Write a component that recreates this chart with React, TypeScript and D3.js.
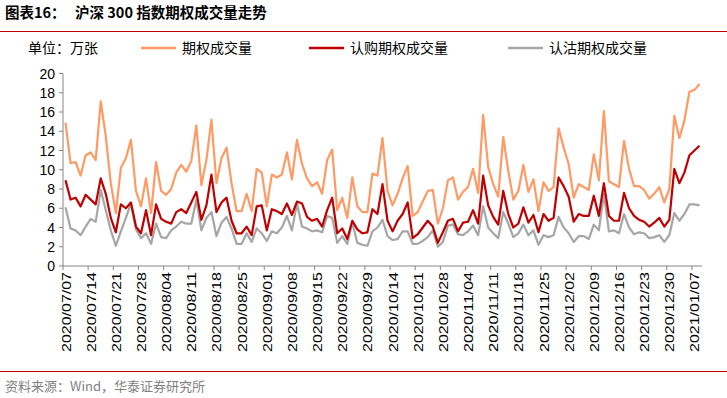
import React from "react";
import * as d3 from "d3";

const dates: string[] = [
  "2020/07/07","2020/07/08","2020/07/09","2020/07/10","2020/07/13","2020/07/14","2020/07/15","2020/07/16","2020/07/17","2020/07/20",
  "2020/07/21","2020/07/22","2020/07/23","2020/07/24","2020/07/27","2020/07/28","2020/07/29","2020/07/30","2020/07/31","2020/08/03",
  "2020/08/04","2020/08/05","2020/08/06","2020/08/07","2020/08/10","2020/08/11","2020/08/12","2020/08/13","2020/08/14","2020/08/17",
  "2020/08/18","2020/08/19","2020/08/20","2020/08/21","2020/08/24","2020/08/25","2020/08/26","2020/08/27","2020/08/28","2020/08/31",
  "2020/09/01","2020/09/02","2020/09/03","2020/09/04","2020/09/07","2020/09/08","2020/09/09","2020/09/10","2020/09/11","2020/09/14",
  "2020/09/15","2020/09/16","2020/09/17","2020/09/18","2020/09/21","2020/09/22","2020/09/23","2020/09/24","2020/09/25","2020/09/28",
  "2020/09/29","2020/09/30","2020/10/09","2020/10/12","2020/10/13","2020/10/14","2020/10/15","2020/10/16","2020/10/19","2020/10/20",
  "2020/10/21","2020/10/22","2020/10/23","2020/10/26","2020/10/27","2020/10/28","2020/10/29","2020/10/30","2020/11/02","2020/11/03",
  "2020/11/04","2020/11/05","2020/11/06","2020/11/09","2020/11/10","2020/11/11","2020/11/12","2020/11/13","2020/11/16","2020/11/17",
  "2020/11/18","2020/11/19","2020/11/20","2020/11/23","2020/11/24","2020/11/25","2020/11/26","2020/11/27","2020/11/30","2020/12/01",
  "2020/12/02","2020/12/03","2020/12/04","2020/12/07","2020/12/08","2020/12/09","2020/12/10","2020/12/11","2020/12/14","2020/12/15",
  "2020/12/16","2020/12/17","2020/12/18","2020/12/21","2020/12/22","2020/12/23","2020/12/24","2020/12/25","2020/12/28","2020/12/29",
  "2020/12/30","2020/12/31","2021/01/04","2021/01/05","2021/01/06","2021/01/07","2021/01/08"
];

const totalVolume: number[] = [
  14.9,10.7,10.8,9.4,11.5,11.8,11.0,17.1,13.5,8.6,
  5.5,10.2,11.2,13.1,7.8,6.2,9.1,5.5,10.8,7.8,
  7.4,8.0,9.7,10.5,9.8,10.9,14.6,8.4,11.0,15.2,
  8.6,11.2,12.3,8.6,5.7,5.7,7.5,5.7,10.1,9.7,
  6.2,9.5,9.2,9.5,11.8,9.0,13.1,10.6,9.1,8.3,
  8.7,7.5,11.0,12.1,5.8,7.1,5.0,9.2,6.2,5.6,
  5.6,9.6,9.4,13.3,7.8,6.3,7.5,9.1,10.4,5.2,
  5.6,6.7,7.8,7.9,4.4,6.0,8.9,9.2,6.9,7.7,
  8.2,10.1,7.6,15.7,10.3,8.5,7.2,13.4,9.9,6.9,
  7.8,10.5,7.7,9.0,5.7,8.7,7.8,8.2,14.3,12.3,
  10.6,7.1,8.5,8.2,7.9,11.6,8.9,16.1,8.8,8.5,
  8.2,13.0,10.1,8.3,8.3,7.9,7.0,7.5,8.2,6.6,
  8.0,15.6,13.3,15.1,18.1,18.3,18.9
];

const callVolume: number[] = [
  8.9,6.9,7.1,6.2,7.4,6.9,6.4,9.1,7.5,5.0,
  3.5,6.4,6.0,6.6,4.1,3.4,5.8,3.2,6.4,4.9,
  4.6,4.4,5.6,5.9,5.5,6.6,7.7,4.8,6.3,9.5,
  5.6,6.6,7.1,4.7,3.4,3.4,4.1,3.2,6.2,6.3,
  3.7,5.9,5.7,5.4,6.5,5.3,6.7,6.5,5.1,4.7,
  4.9,4.1,5.8,7.1,3.4,3.9,2.8,4.7,3.8,3.4,
  3.5,5.9,5.4,8.5,4.7,3.6,4.7,5.4,6.6,2.9,
  3.3,4.0,4.7,4.1,2.4,3.5,4.7,4.9,3.6,4.5,
  4.6,5.8,4.4,9.4,6.3,5.1,4.3,7.8,5.4,4.0,
  4.4,6.1,4.5,5.3,3.5,5.4,4.7,5.0,9.2,8.3,
  7.2,4.6,5.4,5.2,5.2,7.3,5.2,8.6,5.2,4.7,
  4.7,7.6,6.0,5.2,4.8,4.6,4.1,4.5,5.0,4.1,
  4.8,10.1,8.6,9.7,11.5,12.0,12.5
];

const putVolume: number[] = [
  6.1,3.9,3.7,3.2,4.1,4.9,4.6,7.9,5.8,3.7,
  2.1,3.6,5.0,6.5,3.8,2.9,3.4,2.3,4.4,3.0,
  2.9,3.7,4.1,4.6,4.4,4.4,6.9,3.7,5.0,5.6,
  3.1,4.5,5.1,3.9,2.3,2.3,3.4,2.5,3.9,3.4,
  2.6,3.6,3.4,4.0,5.2,3.7,6.5,4.1,3.9,3.6,
  3.7,3.5,5.2,5.0,2.4,3.1,2.3,4.5,2.4,2.2,
  2.1,3.6,4.0,4.8,3.1,2.7,2.8,3.6,3.6,2.3,
  2.3,2.6,3.0,3.7,2.0,2.5,4.2,4.3,3.3,3.2,
  3.6,4.2,3.2,6.2,4.0,3.4,2.9,5.6,4.4,3.0,
  3.4,4.3,3.2,3.7,2.2,3.2,3.0,3.2,5.1,4.0,
  3.4,2.5,3.1,3.1,2.8,4.3,3.7,7.5,3.6,3.7,
  3.4,5.4,4.0,3.3,3.5,3.4,2.9,3.0,3.2,2.5,
  3.2,5.5,4.7,5.4,6.4,6.4,6.3
];

const yTicks: number[] = [0, 2, 4, 6, 8, 10, 12, 14, 16, 18, 20];
const seriesNames: string[] = ["期权成交量", "认购期权成交量", "认沽期权成交量"];

const W = 727;
const H = 398;
const M = { left: 63, right: 702, top: 73.5, bottom: 266 };
const COLORS = ["#FF9A64", "#C00000", "#A6A6A6"];
const CJK = "'Noto Sans CJK SC', 'Liberation Sans', sans-serif";
const LATIN = "'Liberation Sans', Arial, sans-serif";
const AXIS = "#868686";

export default function App() {
  const x = d3.scaleBand<string>().domain(dates).range([M.left, M.right]).paddingInner(0).paddingOuter(0);
  const y = d3.scaleLinear().domain([0, 20]).range([M.bottom, M.top]);
  const cx = (d: string) => (x(d) as number) + x.bandwidth() / 2;

  const allSeries = [totalVolume, callVolume, putVolume];
  const line = d3
    .line<number>()
    .x((_, i) => cx(dates[i]))
    .y((v) => y(v));

  const tickDates = dates.filter((_, i) => i % 5 === 0);
  const legendX = [141, 309, 508];

  return (
    <div style={{ position: "absolute", left: 0, top: 0 }}>
      <svg width={W} height={H} style={{ display: "block", background: "#fff" }}>
        {/* title */}
        <text x={5} y={18} fontFamily={CJK} fontSize={14.5} fontWeight="bold" fill="#000">
          图表16：
        </text>
        <text x={75} y={18} fontFamily={CJK} fontSize={14.5} fontWeight="bold" fill="#000">
          沪深 300 指数期权成交量走势
        </text>
        <line x1={0} x2={727} y1={31.5} y2={31.5} stroke="#C00000" strokeWidth={1} />

        {/* unit */}
        <text x={28} y={53} fontFamily={CJK} fontSize={14} fill="#000">
          单位：万张
        </text>

        {/* legend */}
        {seriesNames.map((n, k) => (
          <g key={n}>
            <line x1={legendX[k]} x2={legendX[k] + 35} y1={48} y2={48} stroke={COLORS[k]} strokeWidth={2.5} />
            <text x={legendX[k] + 41} y={53} fontFamily={CJK} fontSize={14} fill="#000">
              {n}
            </text>
          </g>
        ))}

        {/* y axis */}
        <line x1={M.left} x2={M.left} y1={y(20)} y2={y(0)} stroke={AXIS} strokeWidth={1} />
        {yTicks.map((t) => (
          <g key={t}>
            <line x1={M.left - 4} x2={M.left} y1={y(t)} y2={y(t)} stroke={AXIS} strokeWidth={1} />
            <text x={M.left - 8} y={y(t) + 5} textAnchor="end" fontFamily={LATIN} fontSize={14} fill="#000">
              {t}
            </text>
          </g>
        ))}

        {/* x axis */}
        <line x1={M.left} x2={M.right} y1={M.bottom} y2={M.bottom} stroke={AXIS} strokeWidth={1} />
        {tickDates.map((d) => (
          <g key={d}>
            <line x1={x(d) as number} x2={x(d) as number} y1={M.bottom} y2={M.bottom + 4} stroke={AXIS} strokeWidth={1} />
            <text
              transform={`translate(${cx(d) + 5},${M.bottom + 6}) rotate(-90)`}
              textAnchor="end"
              fontFamily={LATIN}
              fontSize={13}
              textLength={80}
              lengthAdjust="spacingAndGlyphs"
              fill="#000"
            >
              {d}
            </text>
          </g>
        ))}

        {/* lines: draw grey, then orange, then red on top */}
        {[2, 0, 1].map((k) => (
          <path
            key={k}
            d={line(allSeries[k]) || ""}
            fill="none"
            stroke={COLORS[k]}
            strokeWidth={2.2}
            strokeLinejoin="round"
          />
        ))}

        {/* footer */}
        <line x1={0} x2={727} y1={371.5} y2={371.5} stroke="#C00000" strokeWidth={1} />
        <text x={5} y={391} fontFamily={CJK} fontSize={13} fill="#7F7F7F">
          资料来源：Wind，华泰证券研究所
        </text>
      </svg>
    </div>
  );
}
